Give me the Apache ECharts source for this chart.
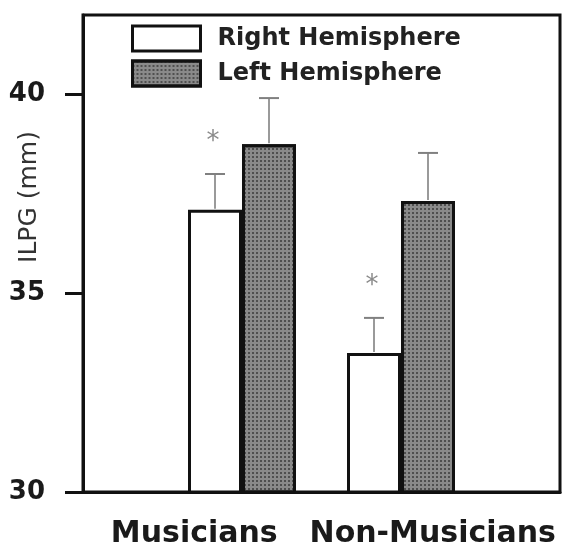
<!DOCTYPE html>
<html><head><meta charset="utf-8">
<script src="https://cdn.jsdelivr.net/npm/echarts@6/dist/echarts.min.js"></script>
<style>html,body{margin:0;padding:0;background:#fff}#c{width:563px;height:546px}</style>
</head><body><div id="c"></div>
<script>
const categories = ['Musicians', 'Non-Musicians'];
const seriesNames = ['Right Hemisphere', 'Left Hemisphere'];
const rightMean = [37.1, 33.5];
const rightErr = [0.9, 0.88];
const leftMean = [38.75, 37.32];
const leftErr = [1.16, 1.21];
const rightSignificant = [true, true];
const yTicks = [30, 35, 40];
const yMin = 30, yMax = 42;
const yTitle = 'ILPG (mm)';

const BAR_W = 54;
const FONT = 'DejaVu Sans';
const barCats = [' ', ...categories, '  '];

function errSeries(name, means, errs, sig, side) {
  return {
    type: 'custom', name: name, xAxisIndex: 0, z: 5,
    encode: { x: 0, y: 1 },
    data: means.map((m, i) => [i + 1, m, errs[i], sig && sig[i] ? 1 : 0]),
    renderItem: function (params, api) {
      const x = api.value(0), m = api.value(1), e = api.value(2), s = api.value(3);
      const base = api.coord([x, m]);
      const top = api.coord([x, m + e]);
      const cx = base[0] + side * BAR_W / 2;
      const children = [
        { type: 'line', shape: { x1: cx, y1: base[1] - 1, x2: cx, y2: top[1] }, style: { stroke: '#9a9a9a', lineWidth: 2 } },
        { type: 'line', shape: { x1: cx - 10, y1: top[1], x2: cx + 10, y2: top[1] }, style: { stroke: '#808080', lineWidth: 2 } }
      ];
      if (s) {
        children.push({ type: 'text', style: { text: '*', x: cx - 2, y: top[1] - 32, align: 'center', verticalAlign: 'middle', fontFamily: FONT, fontSize: 26, fill: '#8a8a8a' } });
      }
      return { type: 'group', children: children };
    }
  };
}

const chart = echarts.init(document.getElementById('c'));
chart.setOption({
  animation: false,
  backgroundColor: '#fff',
  grid: { left: 83, right: 3, top: 15, bottom: 54, show: true, borderColor: '#111', borderWidth: 3, outerBoundsMode: 'none', containLabel: false },
  legend: {
    data: seriesNames, orient: 'vertical', left: 131, top: 18, padding: 0, itemWidth: 68, itemHeight: 25, itemGap: -6,
    icon: 'rect', selectedMode: false,
    itemStyle: { borderWidth: 3, borderColor: '#111' },
    textStyle: { fontFamily: FONT, fontWeight: 'bold', fontSize: 24, lineHeight: 25, color: '#222', padding: [16, 0, 0, 12] }
  },
  xAxis: [
    { type: 'category', data: barCats, boundaryGap: false, position: 'bottom',
      axisLine: { show: true, lineStyle: { color: '#111', width: 3 } }, axisTick: { show: false }, axisLabel: { show: false }, splitLine: { show: false } },
    { type: 'category', data: categories, boundaryGap: true, position: 'bottom',
      axisLine: { show: false }, axisTick: { show: false }, splitLine: { show: false },
      axisLabel: { interval: 0, hideOverlap: false, fontFamily: FONT, fontWeight: 'bold', fontSize: 30, color: '#1a1a1a', margin: 27, padding: [0, 16, 0, 0] } }
  ],
  yAxis: {
    type: 'value', min: yMin, max: yMax, interval: 5,
    axisLine: { show: true, lineStyle: { color: '#111', width: 3 } },
    axisTick: { show: true, inside: false, length: 18, lineStyle: { color: '#111', width: 3 }, customValues: yTicks },
    axisLabel: { customValues: yTicks, fontFamily: FONT, fontWeight: 'bold', fontSize: 26, color: '#1a1a1a', margin: 38 },
    splitLine: { show: false }
  },
  graphic: [
    { type: 'text', x: 29, y: 197, rotation: Math.PI / 2,
      style: { text: yTitle, fontFamily: FONT, fontSize: 25, fill: '#333', align: 'center', verticalAlign: 'middle' } }
  ],
  series: [
    { type: 'bar', name: seriesNames[0], xAxisIndex: 0, barWidth: BAR_W, barGap: '0%',
      data: [null, ...rightMean, null],
      itemStyle: { color: '#fff', borderColor: '#111', borderWidth: 3 } },
    { type: 'bar', name: seriesNames[1], xAxisIndex: 0, barWidth: BAR_W, barGap: '0%',
      data: [null, ...leftMean, null],
      itemStyle: { color: '#8a8a8a', borderColor: '#111', borderWidth: 3,
        decal: { symbol: 'rect', symbolSize: 1, color: 'rgba(40,40,40,0.6)', dashArrayX: [[2, 2]], dashArrayY: [2, 2], rotation: 0 } } },
    errSeries('errR', rightMean, rightErr, rightSignificant, -1),
    errSeries('errL', leftMean, leftErr, null, 1)
  ]
});
</script></body></html>
